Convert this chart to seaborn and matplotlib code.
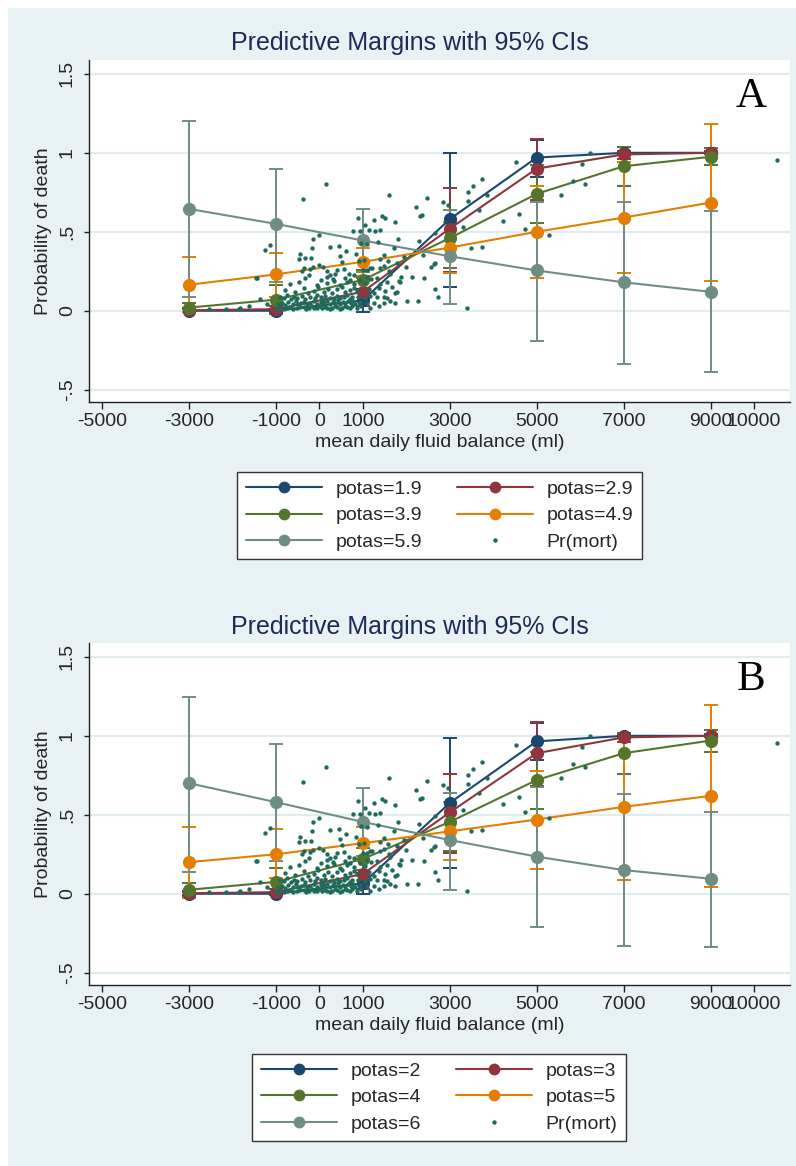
import matplotlib
matplotlib.use("Agg")
import matplotlib.pyplot as plt
import seaborn as sns
import pandas as pd
from matplotlib.lines import Line2D
from matplotlib.patches import Rectangle

# ---------------- data ----------------
fluid = [-3000, -1000, 1000, 3000, 5000, 7000, 9000]

labels_A = ["potas=1.9", "potas=2.9", "potas=3.9", "potas=4.9", "potas=5.9"]
A_mean = [
    [0.000, 0.000, 0.065, 0.580, 0.970, 1.000, 1.000],
    [0.003, 0.010, 0.120, 0.520, 0.900, 0.990, 1.000],
    [0.020, 0.070, 0.195, 0.460, 0.740, 0.915, 0.975],
    [0.165, 0.230, 0.310, 0.400, 0.500, 0.590, 0.685],
    [0.645, 0.550, 0.445, 0.345, 0.255, 0.180, 0.120],
]
A_lo = [
    [-0.010, -0.010, -0.010, 0.150, 0.845, 0.990, 0.990],
    [-0.010, -0.010, 0.030, 0.245, 0.700, 0.960, 0.990],
    [-0.010, -0.020, 0.130, 0.270, 0.555, 0.790, 0.920],
    [-0.010, 0.090, 0.220, 0.240, 0.205, 0.240, 0.190],
    [0.085, 0.185, 0.245, 0.045, -0.190, -0.340, -0.390],
]
A_hi = [
    [0.010, 0.010, 0.140, 1.000, 1.080, 1.010, 1.010],
    [0.020, 0.030, 0.210, 0.780, 1.090, 1.010, 1.010],
    [0.050, 0.160, 0.260, 0.640, 0.920, 1.040, 1.030],
    [0.340, 0.365, 0.400, 0.560, 0.790, 0.940, 1.180],
    [1.200, 0.900, 0.645, 0.640, 0.690, 0.690, 0.630],
]

labels_B = ["potas=2", "potas=3", "potas=4", "potas=5", "potas=6"]
B_mean = [
    [0.000, 0.000, 0.065, 0.575, 0.965, 1.000, 1.000],
    [0.003, 0.010, 0.125, 0.515, 0.890, 0.990, 1.000],
    [0.025, 0.075, 0.220, 0.455, 0.720, 0.890, 0.970],
    [0.200, 0.250, 0.320, 0.395, 0.470, 0.550, 0.620],
    [0.700, 0.580, 0.455, 0.340, 0.235, 0.150, 0.095],
]
B_lo = [
    [-0.010, -0.010, 0.000, 0.160, 0.850, 0.990, 0.990],
    [-0.010, -0.010, 0.030, 0.260, 0.680, 0.960, 0.990],
    [-0.020, -0.010, 0.150, 0.270, 0.535, 0.760, 0.900],
    [-0.030, 0.100, 0.220, 0.215, 0.155, 0.090, 0.045],
    [0.140, 0.210, 0.240, 0.025, -0.210, -0.330, -0.340],
]
B_hi = [
    [0.010, 0.010, 0.130, 0.985, 1.080, 1.010, 1.010],
    [0.020, 0.030, 0.220, 0.760, 1.090, 1.010, 1.010],
    [0.070, 0.160, 0.290, 0.640, 0.900, 1.020, 1.040],
    [0.420, 0.410, 0.420, 0.580, 0.780, 1.000, 1.195],
    [1.245, 0.950, 0.670, 0.640, 0.675, 0.630, 0.520],
]

# observed Pr(mort) points (fluid balance, probability)
pr_mort_points = [
    (-2545, 0.013), (-2140, 0.011), (-1855, 0.013), (-1815, 0.016), (-1625, 0.027),
    (-1000, 0.012), (-900, 0.020), (-820, 0.008), (-750, 0.015), (-670, 0.022),
    (-600, 0.010), (-515, 0.018), (-440, 0.025), (-360, 0.022), (-300, 0.012),
    (-245, 0.015), (-180, 0.028), (-130, 0.020), (-50, 0.017), (20, 0.030),
    (60, 0.016), (130, 0.024), (180, 0.020), (240, 0.012), (290, 0.018),
    (350, 0.028), (410, 0.022), (470, 0.014), (520, 0.020), (580, 0.030),
    (640, 0.025), (700, 0.016), (760, 0.032), (870, 0.020), (950, 0.028),
    (1170, 0.018), (1365, 0.030), (3397, 0.017),
    (-1360, 0.074), (-1200, 0.044), (-960, 0.040), (-860, 0.050), (-780, 0.036),
    (-720, 0.055), (-600, 0.045), (-540, 0.060), (-480, 0.040), (-420, 0.052),
    (-360, 0.058), (-280, 0.045), (-210, 0.050), (-130, 0.062), (-50, 0.040),
    (30, 0.055), (100, 0.048), (170, 0.062), (250, 0.044), (310, 0.058),
    (370, 0.050), (430, 0.066), (480, 0.040), (540, 0.055), (600, 0.046),
    (660, 0.060), (720, 0.050), (780, 0.064), (830, 0.044), (930, 0.058),
    (1100, 0.050), (1250, 0.046), (1480, 0.052), (1630, 0.060), (1748, 0.050),
    (2016, 0.063), (2261, 0.063),
    (-910, 0.090), (-820, 0.080), (-740, 0.098), (-660, 0.075), (-580, 0.088),
    (-510, 0.080), (-400, 0.095), (-330, 0.072), (-210, 0.085), (-110, 0.078),
    (-50, 0.100), (30, 0.088), (90, 0.070), (140, 0.095), (250, 0.082),
    (330, 0.075), (400, 0.092), (480, 0.078), (560, 0.088), (640, 0.100),
    (700, 0.072), (760, 0.090), (880, 0.085), (1060, 0.080), (1170, 0.095),
    (1330, 0.090), (1480, 0.090), (1560, 0.080), (1750, 0.110), (2720, 0.090),
    (-780, 0.134), (-560, 0.120), (-360, 0.145), (-250, 0.115), (-130, 0.128),
    (-20, 0.150), (100, 0.120), (200, 0.140), (290, 0.112), (410, 0.135),
    (520, 0.148), (600, 0.118), (710, 0.130), (800, 0.145), (870, 0.125),
    (1140, 0.138), (1250, 0.115), (1370, 0.145), (1520, 0.128), (1680, 0.150),
    (1790, 0.120), (2668, 0.137),
    (-670, 0.170), (-460, 0.185), (-50, 0.165), (30, 0.195), (180, 0.178),
    (330, 0.188), (480, 0.165), (630, 0.182), (790, 0.170), (930, 0.192),
    (1060, 0.175), (1200, 0.200), (1400, 0.168), (1560, 0.185), (1825, 0.190),
    (1850, 0.185),
    (-1449, 0.207), (-1434, 0.206), (-322, 0.206), (-240, 0.225), (180, 0.215),
    (307, 0.200), (370, 0.235), (591, 0.207), (706, 0.196), (790, 0.228),
    (1100, 0.215), (1330, 0.205), (1630, 0.230), (1870, 0.212), (2131, 0.215),
    (2400, 0.210),
    (-399, 0.250), (-361, 0.270), (-210, 0.262), (-138, 0.274), (-16, 0.290),
    (77, 0.274), (184, 0.253), (246, 0.224), (414, 0.260), (575, 0.266),
    (683, 0.232), (1000, 0.260), (1100, 0.255), (1220, 0.270), (1388, 0.270),
    (1480, 0.285), (1600, 0.250), (1790, 0.300), (2000, 0.277), (2570, 0.275),
    (2668, 0.300), (2630, 0.295),
    (-470, 0.330), (-452, 0.361), (-322, 0.333), (-184, 0.333), (483, 0.346),
    (522, 0.310), (851, 0.361), (905, 0.312), (1158, 0.270), (1020, 0.320),
    (1400, 0.330), (1480, 0.350), (1590, 0.315), (1940, 0.340), (2385, 0.350),
    (-1257, 0.386), (-1127, 0.414), (-169, 0.400), (253, 0.405), (445, 0.410),
    (614, 0.380), (1342, 0.435), (1710, 0.396), (1802, 0.453), (2285, 0.440),
    (-146, 0.456), (-16, 0.480), (950, 0.430), (1100, 0.420), (3497, 0.396),
    (3742, 0.403),
    (767, 0.506), (928, 0.506), (882, 0.587), (1058, 0.544), (1135, 0.512),
    (1265, 0.576), (1273, 0.506), (1403, 0.510), (1441, 0.600), (1500, 0.590),
    (1733, 0.560), (2668, 0.490), (3296, 0.530), (2323, 0.600), (2360, 0.607),
    (4224, 0.570), (4738, 0.520), (5275, 0.480), (4585, 0.610),
    (-383, 0.705), (154, 0.800), (1610, 0.730), (2224, 0.654), (2477, 0.717),
    (2837, 0.688), (2960, 0.667), (3420, 0.696), (3430, 0.755), (3535, 0.790),
    (3680, 0.637), (3742, 0.835), (3857, 0.730), (4531, 0.945), (5566, 0.730),
    (5827, 0.820), (6042, 0.930), (6118, 0.800), (6233, 1.000), (10527, 0.955),
]
mort_x = [p[0] for p in pr_mort_points]
mort_y = [p[1] for p in pr_mort_points]

x_ticks = [-5000, -3000, -1000, 0, 1000, 3000, 5000, 7000, 9000, 10000]
y_ticks = [-0.5, 0, 0.5, 1, 1.5]
y_ticklabels = ["-.5", "0", ".5", "1", "1.5"]

# ---------------- style ----------------
colors = ["#1A476F", "#90353B", "#55752F", "#E37E00", "#6E8E84"]
dot_color = "#1E6B5C"
bg_color = "#E8F1F3"
grid_color = "#E1ECEF"
title_color = "#1C2B58"

sns.set_style("white")
plt.rcParams["font.family"] = ["Liberation Sans", "DejaVu Sans"]

W, H = 796, 1166
fig = plt.figure(figsize=(W / 100, H / 100), dpi=100, facecolor="white")
fig.patches.append(Rectangle((8 / W, 0), 1 - 8 / W, 1 - 8 / H, transform=fig.transFigure,
                             facecolor=bg_color, edgecolor="none", zorder=-10))


def px_axes(l, t, r, b):
    return [l / W, 1 - b / H, (r - l) / W, (b - t) / H]


def draw_panel(ax, labels, means, los, his, letter, title_y, legend_center):
    # confidence intervals
    for i in range(5):
        m, lo, hi = means[i], los[i], his[i]
        ax.errorbar(fluid, m, yerr=[[a - b for a, b in zip(m, lo)], [c - a for a, c in zip(m, hi)]],
                    fmt="none", ecolor=colors[i], elinewidth=1.4, capsize=5, capthick=1.4,
                    zorder=2 + i * 0.01)
    # lines with markers
    rows = []
    for i, lab in enumerate(labels):
        for xv, yv in zip(fluid, means[i]):
            rows.append({"fluid": xv, "prob": yv, "potas": lab})
    df = pd.DataFrame(rows)
    pal = {lab: colors[i] for i, lab in enumerate(labels)}
    sns.lineplot(data=df, x="fluid", y="prob", hue="potas", hue_order=labels, palette=pal,
                 estimator=None, sort=False, marker="o", markersize=9.5, markeredgewidth=0,
                 linewidth=1.5, legend=False, ax=ax, zorder=3)
    # observed points
    sns.scatterplot(x=mort_x, y=mort_y, s=10, color=dot_color, linewidth=0, ax=ax, zorder=5)

    ax.set_facecolor("white")
    ax.set_xlim(-5299, 10828)
    ax.set_ylim(-0.578, 1.588)
    ax.set_xticks(x_ticks)
    ax.set_xticklabels([str(t) for t in x_ticks])
    ax.set_yticks(y_ticks)
    ax.set_yticklabels(y_ticklabels, rotation=90, va="center")
    ax.grid(axis="y", color=grid_color, linewidth=1.6, zorder=0)
    ax.set_axisbelow(True)
    for s in ["top", "right"]:
        ax.spines[s].set_visible(False)
    for s in ["left", "bottom"]:
        ax.spines[s].set_color("#222222")
        ax.spines[s].set_linewidth(1.0)
    ax.tick_params(axis="x", direction="out", length=5, width=1, color="#222222",
                   labelsize=14, pad=3, bottom=True)
    ax.tick_params(axis="y", direction="out", length=3.5, width=1, color="#222222",
                   labelsize=14, pad=6, left=True)
    ax.set_xlabel("mean daily fluid balance (ml)", fontsize=14, labelpad=3)
    ax.set_ylabel("Probability of death", fontsize=14, labelpad=5)

    fig.text(410 / W, 1 - title_y / H, "Predictive Margins with 95% CIs", ha="center", va="center",
             fontsize=18, color=title_color)
    ax.text(0.945, 0.95, letter, transform=ax.transAxes, ha="center", va="top",
            fontsize=31, family=["Liberation Serif", "DejaVu Serif"], color="black")

    handles = []
    for i, lab in enumerate(labels):
        handles.append(Line2D([0], [0], color=colors[i], lw=1.5, marker="o", markersize=8.5,
                              markeredgewidth=0, label=lab))
    dot = Line2D([0], [0], color=dot_color, lw=0, marker="o", markersize=3.2,
                 markeredgewidth=0, label="Pr(mort)")
    order = [handles[0], handles[2], handles[4], handles[1], handles[3], dot]
    leg = fig.legend(handles=order, labels=[h.get_label() for h in order], ncol=2,
                     loc="center", bbox_to_anchor=(legend_center[0] / W, 1 - legend_center[1] / H),
                     fontsize=14, frameon=True, fancybox=False, edgecolor="#333333",
                     framealpha=1, facecolor="white", handlelength=3.9, handletextpad=0.7,
                     columnspacing=1.8, labelspacing=0.45, borderpad=0.45)
    leg.get_frame().set_linewidth(1.0)


axA = fig.add_axes(px_axes(89, 60, 790, 402))
axB = fig.add_axes(px_axes(89, 643, 790, 985))

draw_panel(axA, labels_A, A_mean, A_lo, A_hi, "A", 43, (439.5, 515.5))
draw_panel(axB, labels_B, B_mean, B_lo, B_hi, "B", 627, (439, 1097.5))

fig.savefig("out.png", dpi=100, facecolor=fig.get_facecolor())
